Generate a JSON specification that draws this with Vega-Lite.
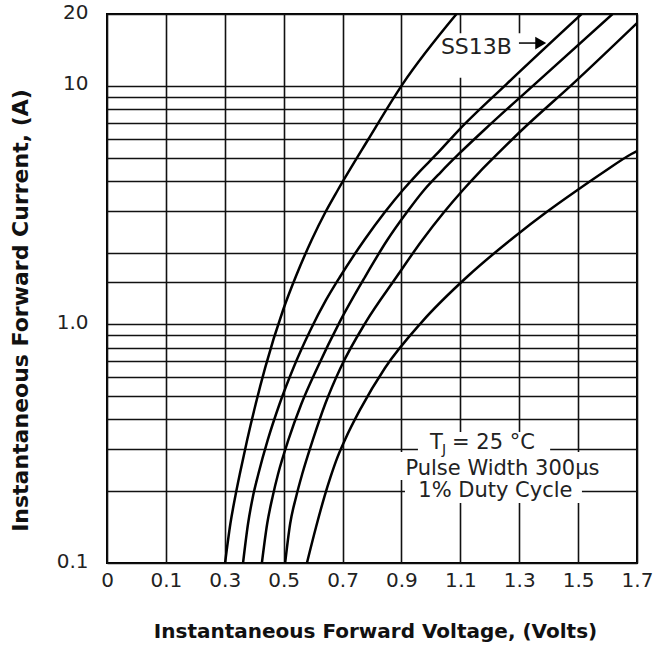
{
  "$schema": "https://vega.github.io/schema/vega-lite/v6.json",
  "width": 530,
  "height": 549,
  "autosize": {"type": "none"},
  "padding": {"left": 107, "top": 14, "right": 16, "bottom": 89},
  "background": "white",
  "config": {
    "view": {"stroke": "black", "strokeWidth": 2},
    "axis": {
      "grid": true,
      "gridColor": "#111111",
      "gridWidth": 1.6,
      "gridOpacity": 1,
      "ticks": false,
      "domain": false,
      "labelFont": "DejaVu Sans",
      "labelFontSize": 20,
      "labelColor": "#222222",
      "labelFlush": false,
      "labelOverlap": false,
      "titleFont": "DejaVu Sans",
      "titleFontWeight": "bold",
      "titleColor": "#111111"
    }
  },
  "datasets": {
    "curves": [
      {"series": "c1", "V": 0.301, "I": 0.1},
      {"series": "c1", "V": 0.319, "I": 0.146},
      {"series": "c1", "V": 0.336, "I": 0.191},
      {"series": "c1", "V": 0.351, "I": 0.236},
      {"series": "c1", "V": 0.376, "I": 0.328},
      {"series": "c1", "V": 0.405, "I": 0.464},
      {"series": "c1", "V": 0.437, "I": 0.657},
      {"series": "c1", "V": 0.498, "I": 1.149},
      {"series": "c1", "V": 0.542, "I": 1.595},
      {"series": "c1", "V": 0.595, "I": 2.258},
      {"series": "c1", "V": 0.642, "I": 2.958},
      {"series": "c1", "V": 0.684, "I": 3.659},
      {"series": "c1", "V": 0.786, "I": 5.928},
      {"series": "c1", "V": 0.904, "I": 10.17},
      {"series": "c1", "V": 1.087, "I": 20},
      {"series": "SS13B", "V": 0.362, "I": 0.1},
      {"series": "SS13B", "V": 0.379, "I": 0.146},
      {"series": "SS13B", "V": 0.396, "I": 0.191},
      {"series": "SS13B", "V": 0.414, "I": 0.236},
      {"series": "SS13B", "V": 0.446, "I": 0.328},
      {"series": "SS13B", "V": 0.486, "I": 0.464},
      {"series": "SS13B", "V": 0.533, "I": 0.657},
      {"series": "SS13B", "V": 0.591, "I": 0.947},
      {"series": "SS13B", "V": 0.644, "I": 1.266},
      {"series": "SS13B", "V": 0.691, "I": 1.58},
      {"series": "SS13B", "V": 0.774, "I": 2.258},
      {"series": "SS13B", "V": 0.844, "I": 2.958},
      {"series": "SS13B", "V": 0.905, "I": 3.659},
      {"series": "SS13B", "V": 0.96, "I": 4.352},
      {"series": "SS13B", "V": 1.02, "I": 5.18},
      {"series": "SS13B", "V": 1.095, "I": 6.528},
      {"series": "SS13B", "V": 1.257, "I": 10.17},
      {"series": "SS13B", "V": 1.512, "I": 20},
      {"series": "c3", "V": 0.426, "I": 0.1},
      {"series": "c3", "V": 0.444, "I": 0.146},
      {"series": "c3", "V": 0.463, "I": 0.191},
      {"series": "c3", "V": 0.481, "I": 0.236},
      {"series": "c3", "V": 0.516, "I": 0.328},
      {"series": "c3", "V": 0.56, "I": 0.464},
      {"series": "c3", "V": 0.614, "I": 0.657},
      {"series": "c3", "V": 0.69, "I": 1.023},
      {"series": "c3", "V": 0.776, "I": 1.58},
      {"series": "c3", "V": 0.852, "I": 2.258},
      {"series": "c3", "V": 0.919, "I": 2.958},
      {"series": "c3", "V": 0.977, "I": 3.659},
      {"series": "c3", "V": 1.034, "I": 4.352},
      {"series": "c3", "V": 1.095, "I": 5.18},
      {"series": "c3", "V": 1.181, "I": 6.528},
      {"series": "c3", "V": 1.353, "I": 10.17},
      {"series": "c3", "V": 1.617, "I": 20},
      {"series": "c4", "V": 0.505, "I": 0.1},
      {"series": "c4", "V": 0.522, "I": 0.146},
      {"series": "c4", "V": 0.543, "I": 0.191},
      {"series": "c4", "V": 0.563, "I": 0.236},
      {"series": "c4", "V": 0.599, "I": 0.328},
      {"series": "c4", "V": 0.641, "I": 0.464},
      {"series": "c4", "V": 0.693, "I": 0.657},
      {"series": "c4", "V": 0.779, "I": 1.023},
      {"series": "c4", "V": 0.883, "I": 1.58},
      {"series": "c4", "V": 0.971, "I": 2.258},
      {"series": "c4", "V": 1.045, "I": 2.958},
      {"series": "c4", "V": 1.109, "I": 3.659},
      {"series": "c4", "V": 1.165, "I": 4.352},
      {"series": "c4", "V": 1.226, "I": 5.18},
      {"series": "c4", "V": 1.309, "I": 6.528},
      {"series": "c4", "V": 1.481, "I": 10.17},
      {"series": "c4", "V": 1.7, "I": 18.33},
      {"series": "c5", "V": 0.579, "I": 0.1},
      {"series": "c5", "V": 0.61, "I": 0.1415},
      {"series": "c5", "V": 0.638, "I": 0.189},
      {"series": "c5", "V": 0.659, "I": 0.229},
      {"series": "c5", "V": 0.679, "I": 0.27},
      {"series": "c5", "V": 0.708, "I": 0.328},
      {"series": "c5", "V": 0.759, "I": 0.438},
      {"series": "c5", "V": 0.844, "I": 0.657},
      {"series": "c5", "V": 0.969, "I": 1.023},
      {"series": "c5", "V": 1.126, "I": 1.595},
      {"series": "c5", "V": 1.283, "I": 2.325},
      {"series": "c5", "V": 1.393, "I": 2.958},
      {"series": "c5", "V": 1.498, "I": 3.659},
      {"series": "c5", "V": 1.587, "I": 4.352},
      {"series": "c5", "V": 1.681, "I": 5.18},
      {"series": "c5", "V": 1.7, "I": 5.33}
    ],
    "boxes": [
      {"x1": 1.027, "x2": 1.31, "y1": 10.8, "y2": 16.6},
      {"x1": 0.956, "x2": 1.405, "y1": 0.292, "y2": 0.354},
      {"x1": 0.851, "x2": 1.615, "y1": 0.223, "y2": 0.292},
      {"x1": 0.912, "x2": 1.513, "y1": 0.1785, "y2": 0.223}
    ],
    "leftText": [
      {"text": "T", "x": 0.997, "y": 0.318},
      {"text": "= 25 °C", "x": 1.072, "y": 0.318}
    ],
    "labelText": [
      {"text": "SS13B", "x": 1.034, "y": 14.54}
    ],
    "subText": [
      {"text": "J", "x": 1.038, "y": 0.2976}
    ],
    "centerText": [
      {"text": "Pulse Width 300µs", "x": 1.243, "y": 0.248},
      {"text": "1% Duty Cycle", "x": 1.219, "y": 0.2}
    ],
    "arrow": [
      {"x1": 1.299, "x2": 1.364, "y": 15.11, "tip": 1.373}
    ]
  },
  "layer": [
    {
      "data": {"name": "boxes"},
      "mark": {"type": "rect", "fill": "white", "stroke": null},
      "encoding": {
        "x": {
          "field": "x1",
          "type": "quantitative",
          "scale": {"domain": [-0.1, 1.7], "nice": false, "zero": false},
          "axis": {
            "values": [-0.1, 0.1, 0.3, 0.5, 0.7, 0.9, 1.1, 1.3, 1.5, 1.7],
            "labelExpr": "datum.value < 0 ? '0' : format(datum.value, '.1f')",
            "labelPadding": 7,
            "title": "Instantaneous Forward Voltage, (Volts)",
            "titleFontSize": 20,
            "titleBaseline": "alphabetic",
            "titleX": 268,
            "titleY": 74
          }
        },
        "x2": {"field": "x2"},
        "y": {
          "field": "y1",
          "type": "quantitative",
          "scale": {"type": "log", "domain": [0.1, 20], "nice": false},
          "axis": {
            "values": [0.1, 0.2, 0.3, 0.4, 0.5, 0.6, 0.7, 0.8, 0.9, 1, 1.5, 2, 3, 4, 5, 6, 7, 8, 9, 10, 20],
            "labelExpr": "datum.value == 20 ? '20' : datum.value == 10 ? '10' : datum.value == 1 ? '1.0' : datum.value == 0.1 ? '0.1' : ''",
            "labelPadding": 19,
            "labelBaseline": "middle",
            "labelOffset": -2,
            "title": "Instantaneous Forward Current, (A)",
            "titleFontSize": 22,
            "titleBaseline": "alphabetic",
            "titleX": -80,
            "titleY": 296
          }
        },
        "y2": {"field": "y2"}
      }
    },
    {
      "data": {"name": "curves"},
      "mark": {"type": "line", "color": "black", "strokeWidth": 2.5, "interpolate": "monotone", "clip": true},
      "encoding": {
        "x": {"field": "V", "type": "quantitative"},
        "y": {"field": "I", "type": "quantitative"},
        "detail": {"field": "series"}
      }
    },
    {
      "data": {"name": "leftText"},
      "mark": {"type": "text", "align": "left", "baseline": "middle", "font": "DejaVu Sans", "fontSize": 21, "color": "#222222"},
      "encoding": {
        "x": {"field": "x", "type": "quantitative"},
        "y": {"field": "y", "type": "quantitative"},
        "text": {"field": "text"}
      }
    },
    {
      "data": {"name": "labelText"},
      "mark": {"type": "text", "align": "left", "baseline": "middle", "font": "DejaVu Sans", "fontSize": 22, "color": "#222222"},
      "encoding": {
        "x": {"field": "x", "type": "quantitative"},
        "y": {"field": "y", "type": "quantitative"},
        "text": {"field": "text"}
      }
    },
    {
      "data": {"name": "subText"},
      "mark": {"type": "text", "align": "left", "baseline": "middle", "font": "DejaVu Sans", "fontSize": 14, "color": "#222222"},
      "encoding": {
        "x": {"field": "x", "type": "quantitative"},
        "y": {"field": "y", "type": "quantitative"},
        "text": {"field": "text"}
      }
    },
    {
      "data": {"name": "centerText"},
      "mark": {"type": "text", "align": "center", "baseline": "middle", "font": "DejaVu Sans", "fontSize": 21, "color": "#222222"},
      "encoding": {
        "x": {"field": "x", "type": "quantitative"},
        "y": {"field": "y", "type": "quantitative"},
        "text": {"field": "text"}
      }
    },
    {
      "data": {"name": "arrow"},
      "mark": {"type": "rule", "color": "black", "strokeWidth": 1.5},
      "encoding": {
        "x": {"field": "x1", "type": "quantitative"},
        "x2": {"field": "x2"},
        "y": {"field": "y", "type": "quantitative"}
      }
    },
    {
      "data": {"name": "arrow"},
      "mark": {"type": "point", "shape": "triangle-right", "filled": true, "color": "black", "size": 160, "opacity": 1},
      "encoding": {
        "x": {"field": "tip", "type": "quantitative"},
        "y": {"field": "y", "type": "quantitative"}
      }
    }
  ]
}
